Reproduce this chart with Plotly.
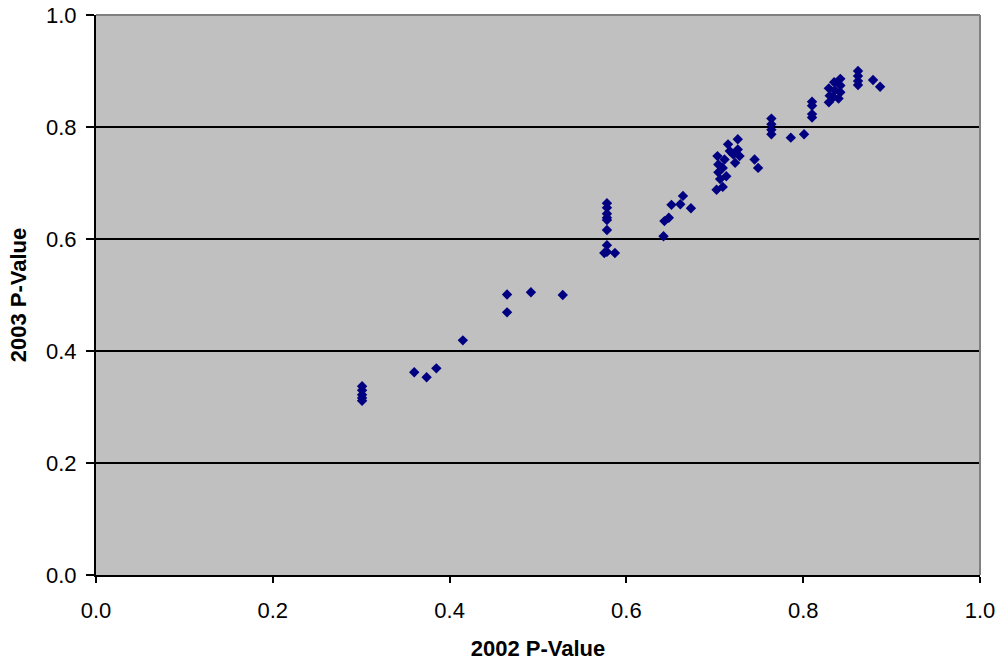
import plotly.graph_objects as go

# 2002 P-Value (x) and 2003 P-Value (y)
x2002 = [0.301, 0.301, 0.301, 0.301, 0.301,
         0.360, 0.374, 0.385, 0.415,
         0.465, 0.465, 0.492, 0.528,
         0.578, 0.578, 0.578, 0.578, 0.578, 0.578, 0.578, 0.578, 0.575, 0.587,
         0.642, 0.643, 0.648, 0.651, 0.661, 0.664, 0.673,
         0.702, 0.709, 0.706, 0.704, 0.704, 0.703, 0.709, 0.711, 0.715, 0.717,
         0.723, 0.726, 0.726, 0.728, 0.721, 0.713,
         0.745, 0.749,
         0.764, 0.764, 0.764, 0.764,
         0.786, 0.801,
         0.810, 0.810, 0.810, 0.810,
         0.829, 0.830, 0.829, 0.836, 0.835, 0.842, 0.842, 0.842, 0.840, 0.834,
         0.862, 0.862, 0.862, 0.862,
         0.879, 0.887]
y2003 = [0.337, 0.330, 0.322, 0.316, 0.311,
         0.362, 0.353, 0.369, 0.419,
         0.501, 0.469, 0.505, 0.500,
         0.664, 0.656, 0.645, 0.638, 0.634, 0.616, 0.589, 0.577, 0.575, 0.575,
         0.605, 0.632, 0.638, 0.661, 0.662, 0.677, 0.655,
         0.688, 0.693, 0.707, 0.719, 0.733, 0.748, 0.727, 0.742, 0.769, 0.757,
         0.736, 0.778, 0.760, 0.748, 0.751, 0.712,
         0.742, 0.727,
         0.815, 0.805, 0.795, 0.787,
         0.781, 0.787,
         0.845, 0.838, 0.823, 0.817,
         0.844, 0.856, 0.869, 0.865, 0.880, 0.886, 0.874, 0.862, 0.851, 0.853,
         0.900, 0.891, 0.882, 0.875,
         0.884, 0.872]

tickvals = [0.0, 0.2, 0.4, 0.6, 0.8, 1.0]
ticktext = ["0.0", "0.2", "0.4", "0.6", "0.8", "1.0"]

fig = go.Figure()
fig.add_trace(go.Scatter(
    x=x2002, y=y2003, mode="markers",
    marker=dict(symbol="diamond", size=8, color="#000080",
                line=dict(width=0)),
    showlegend=False, hoverinfo="x+y"))

font = dict(family="Liberation Sans, Arial, sans-serif", size=22, color="black")

fig.update_layout(
    width=1001, height=665,
    margin=dict(l=96, r=21, t=15, b=90),
    paper_bgcolor="white", plot_bgcolor="#C0C0C0",
    font=font,
    xaxis=dict(range=[0, 1], tickvals=tickvals, ticktext=ticktext,
               showgrid=False, zeroline=False, automargin=False,
               showline=True, linecolor="black", linewidth=2,
               ticks="outside", ticklen=6, tickcolor="black", tickwidth=1.5,
               tickfont=font, ticklabelstandoff=9,
               title=dict(text="<b>2002 P-Value</b>", font=font, standoff=18)),
    yaxis=dict(range=[0, 1], tickvals=tickvals, ticktext=ticktext,
               showgrid=True, gridcolor="black", gridwidth=1.5,
               zeroline=False, automargin=False,
               showline=True, linecolor="black", linewidth=2,
               ticks="outside", ticklen=8, tickcolor="black", tickwidth=1.5,
               tickfont=font, ticklabelstandoff=5,
               title=dict(text="<b>2003 P-Value</b>", font=font, standoff=13)),
)
# gray border on the top and right of the plot area
fig.add_shape(type="line", xref="paper", yref="paper", x0=0, x1=1, y0=1, y1=1,
              line=dict(color="#808080", width=2))
fig.add_shape(type="line", xref="paper", yref="paper", x0=1, x1=1, y0=0, y1=1,
              line=dict(color="#808080", width=2))

fig.write_html("out.html",
               config={"displayModeBar": False},
               post_script="document.body.style.margin='0';"
                           "document.body.style.overflow='hidden';")
